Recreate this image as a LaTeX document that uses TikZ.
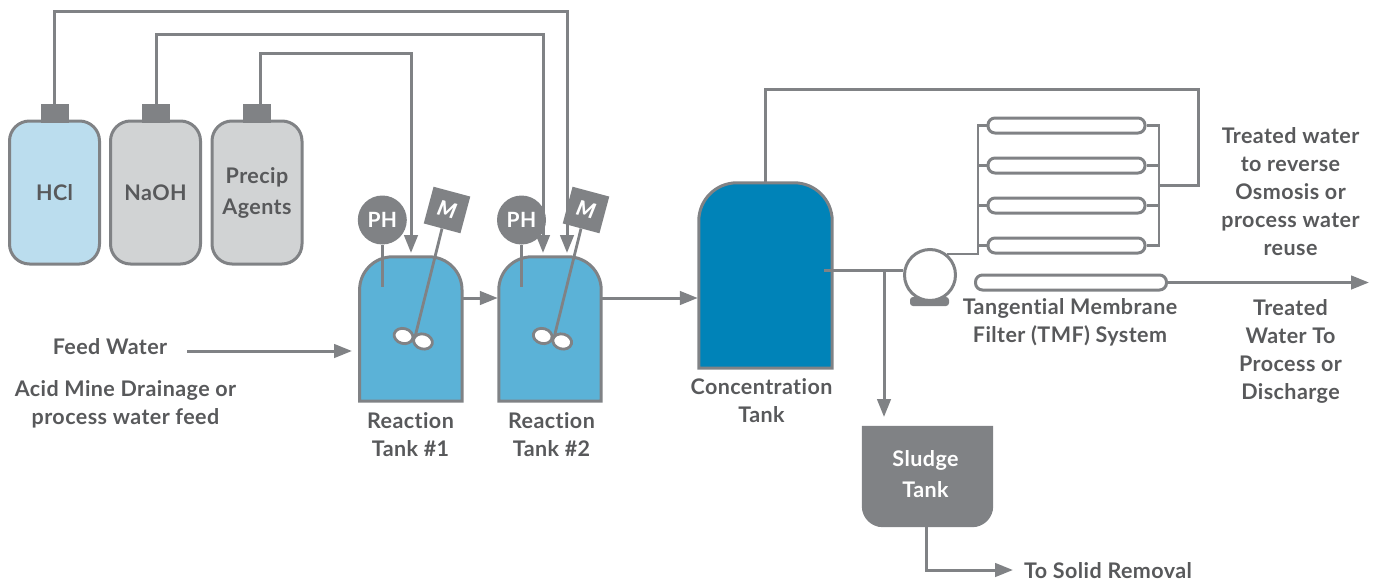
\documentclass[tikz,border=0pt]{standalone}
\usepackage{fontspec}
\setmainfont{Lato}[BoldFont={Lato Bold},BoldItalicFont={Lato Black Italic},LetterSpace=2,Ligatures=NoCommon]
\usetikzlibrary{arrows.meta,calc,shapes.geometric}
\definecolor{pipe}{HTML}{808285}
\definecolor{ink}{HTML}{58595B}
\definecolor{lblue}{HTML}{BBDDEE}
\definecolor{lgray}{HTML}{D1D3D4}
\definecolor{rblue}{HTML}{5BB2D7}
\definecolor{cblue}{HTML}{0083B8}
\tikzset{
  pipeline/.style={draw=pipe,line width=3pt},
  arrowline/.style={pipeline,-{Triangle[length=18pt,width=13.5pt]}},
  thinline/.style={draw=pipe,line width=2.8pt},
  bottle/.style={draw=pipe,line width=3pt,rounded corners=20pt,minimum width=90pt,minimum height=143pt,inner sep=0pt,text=ink,font=\fontsize{21.5}{31}\selectfont\bfseries,align=center},
  capbox/.style={fill=pipe,minimum width=28pt,minimum height=19pt,inner sep=0pt},
  phnode/.style={circle,fill=pipe,minimum size=49pt,inner sep=0pt,text=white,font=\fontsize{21}{24}\selectfont\bfseries},
  motor/.style={fill=pipe,minimum size=38pt,inner sep=0pt,rotate=-15,text=white,font=\fontsize{21}{24}\selectfont\bfseries\itshape},
  tankfill/.style={draw=pipe,line width=3pt},
  blade/.style={ellipse,draw=pipe,line width=2.8pt,fill=white,minimum width=19pt,minimum height=15pt,inner sep=0pt,rotate=-15},
  membrane/.style={draw=pipe,line width=3pt,fill=white,rounded corners=7pt,minimum height=15pt,inner sep=0pt},
  caption/.style={text=ink,font=\fontsize{21.5}{28}\selectfont\bfseries,align=center,inner sep=0pt},
}
\begin{document}
\begin{tikzpicture}[x=1pt,y=-1pt]
\useasboundingbox (0,0) rectangle (1377,581);
% bottles
\node[bottle,fill=lblue] (hcl) at (54.5,192.5) {HCl};
\node[bottle,fill=lgray] (naoh) at (155.5,192.5) {NaOH};
\node[bottle,fill=lgray] (precip) at (257,192.5) {Precip\\Agents};
\node[capbox] (caph) at (55,113.5) {};
\node[capbox] (capn) at (156,113.5) {};
\node[capbox] (capp) at (257,113.5) {};
% frames for tanks
\node[minimum width=102pt,minimum height=144pt,inner sep=0pt] (t1) at (410.8,329) {};
\node[minimum width=102pt,minimum height=144pt,inner sep=0pt] (t2) at (550,329) {};
\node[minimum width=133pt,minimum height=185pt,inner sep=0pt] (ct) at (765.5,275.5) {};
% chemical feed lines
\coordinate (pin) at (411,253);
\coordinate (nin) at (543,253);
\coordinate (hin) at (567,253);
\coordinate (ptop) at (260,53);
\coordinate (ntop) at (156,34);
\coordinate (htop) at (54,11);
\draw[arrowline] (capp.north -| ptop) -- (ptop) -| (pin);
\draw[arrowline] (capn.north) -- (ntop) -| (nin);
\draw[arrowline] (caph.north -| htop) -- (htop) -| (hin);
% tanks
\draw[tankfill,fill=rblue] (t1.south west) [rounded corners=33pt] -- (t1.north west) -- (t1.north east) [sharp corners] -- (t1.south east) -- cycle;
\draw[tankfill,fill=rblue] (t2.south west) [rounded corners=33pt] -- (t2.north west) -- (t2.north east) [sharp corners] -- (t2.south east) -- cycle;
\draw[tankfill,fill=cblue] (ct.south west) [rounded corners=38pt] -- (ct.north west) -- (ct.north east) [sharp corners] -- (ct.south east) -- cycle;
% instruments
\node[phnode] (ph1) at (382.3,220) {PH};
\node[phnode] (ph2) at (521.5,220) {PH};
\node[motor] (m1) at (447,210) {M};
\node[motor] (m2) at (586,210) {M};
\coordinate (pe1) at (382.3,287);
\coordinate (pe2) at (521.5,287);
\draw[thinline] (ph1.south) -- (pe1);
\draw[thinline] (ph2.south) -- (pe2);
\node[blade] (b1a) at (403.5,336) {};
\node[blade] (b1b) at (423,341.5) {};
\node[blade] (b2a) at (542.7,336) {};
\node[blade] (b2b) at (562.2,341.5) {};
\coordinate (s1) at (415,337);
\coordinate (s2) at (554.2,337);
\draw[thinline] (m1.south) -- (s1);
\draw[thinline] (m2.south) -- (s2);
% tank links
\coordinate (feed) at (187,351);
\coordinate (feedin) at (352,351);
\draw[arrowline] (feed) -- (feedin);
\draw[arrowline] (t1.east |- 0,298) -- ([xshift=-1pt]t2.west |- 0,298);
\draw[arrowline] (t2.east |- 0,298) -- ([xshift=-1pt]ct.west |- 0,298);
% pump
\node[fill=pipe,rounded corners=3pt,minimum width=39pt,minimum height=9pt,inner sep=0pt] (base) at (929.5,301.5) {};
\node[circle,draw=pipe,line width=3pt,fill=white,minimum size=51pt,inner sep=0pt] (pump) at (930,275) {};
\coordinate (ctout) at (824,270);
\coordinate (tee) at (884,270);
\draw[pipeline] (ctout) -- (pump.west |- ctout);
% sludge
\node[minimum width=131pt,minimum height=101pt,inner sep=0pt] (sl) at (927.5,476.5) {};
\fill[pipe] (sl.north west) [rounded corners=21pt] -- (sl.south west) -- (sl.south east) [sharp corners] -- (sl.north east) -- cycle;
\node[text=white,font=\fontsize{21.5}{31}\selectfont\bfseries,align=center,inner sep=0pt] (sllabel) at (925.5,474.5) {Sludge\\Tank};
\coordinate (slin) at (884,417);
\draw[arrowline] (tee) -- (slin);
\coordinate (solid) at (1013,570);
\coordinate (slout) at (926,527);
\draw[arrowline] (slout) |- (solid);
% membranes
\node[membrane,minimum width=157pt] (f1) at (1066.5,125.5) {};
\node[membrane,minimum width=157pt] (f2) at (1066.5,165.5) {};
\node[membrane,minimum width=157pt] (f3) at (1066.5,205.5) {};
\node[membrane,minimum width=157pt] (f4) at (1066.5,245.5) {};
\node[membrane,minimum width=191pt] (f5) at (1071,282.5) {};
\coordinate (hl) at (978,254);
\coordinate (hr) at (1159,185);
\coordinate (pout) at (947,254);
\draw[thinline] (pout) -- (hl) |- (f1.west);
\draw[thinline] (hl |- f2.west) -- (f2.west);
\draw[thinline] (hl |- f3.west) -- (f3.west);
\draw[thinline] (hl |- f4.west) -- (f4.west);
\draw[thinline] (f1.east) -| (hr) |- (f4.east);
\draw[thinline] (f2.east) -- (hr |- f2.east);
\draw[thinline] (f3.east) -- (hr |- f3.east);
\coordinate (rx) at (1198,89);
\coordinate (rt) at (765,183);
\draw[pipeline] (hr) -| (rx) -| (rt);
\coordinate (treated) at (1369,282.5);
\draw[arrowline] (f5.east) -- (treated);
% labels
\node[caption] (lfeed) at (110,347) {Feed Water};
\node[caption] (lacid) at (125.5,404.5) {Acid Mine Drainage or\\process water feed};
\node[caption] (lt1) at (410.5,435) {Reaction\\Tank \#1};
\node[caption] (lt2) at (551.5,435) {Reaction\\Tank \#2};
\node[caption] (lct) at (761.5,401) {Concentration\\Tank};
\node[caption] (ltmf) at (1070,322.5) {Tangential Membrane\\Filter (TMF) System};
\node[caption] (lro) at (1290.5,192) {Treated water\\to reverse\\Osmosis or\\process water\\reuse};
\node[caption] (ldis) at (1290.5,351) {Treated\\Water To\\Process or\\Discharge};
\node[caption,anchor=west] (lsolid) at (1024,570.5) {To Solid Removal};
\end{tikzpicture}
\end{document}
